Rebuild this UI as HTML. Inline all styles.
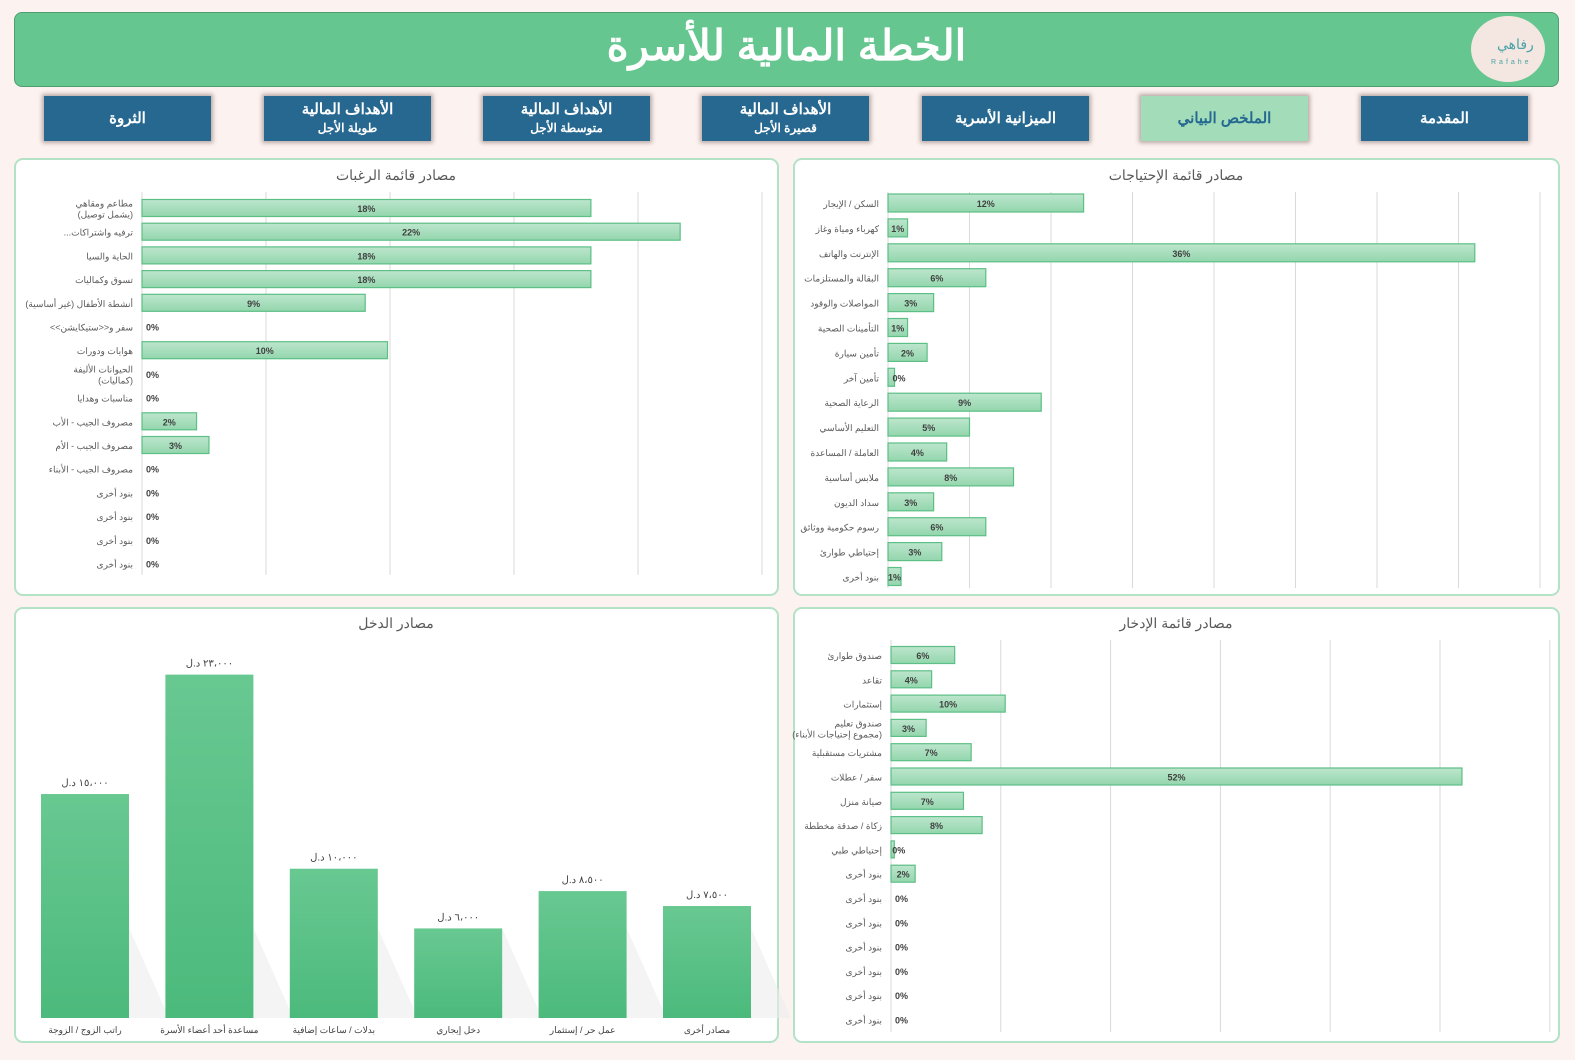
<!DOCTYPE html>
<html lang="ar"><head><meta charset="utf-8">
<style>
body{margin:0;width:1575px;height:1060px;background:#fcf2ef;position:relative;overflow:hidden;font-family:"Liberation Sans","Noto Sans CJK SC",sans-serif}
#hdr{position:absolute;left:14px;top:12px;width:1545px;height:75px;background:#66c690;border:1px solid #4f9e70;border-radius:8px;box-sizing:border-box}
#title{position:absolute;left:0;right:0;top:8px;text-align:center;color:#fff;font-size:42px;font-weight:bold;direction:rtl}
#logo{position:absolute;left:1456px;top:3px;width:74px;height:66px;border-radius:50%;background:#f4e6e0}
#logo span{position:absolute;left:26px;top:20px;color:#4aa3a8;font-size:14px}
#logo small{position:absolute;left:20px;top:43px;color:#4aa3a8;font-size:7px;letter-spacing:3px}
.btn{position:absolute;top:96px;width:167px;height:45px;background:#266890;color:#fff;font-weight:bold;text-align:center;box-shadow:0 0 4px 2px #b9aaa6;direction:rtl;display:flex;flex-direction:column;justify-content:center;font-size:15px;line-height:18px}
.btn small{font-size:12px}
.btn.act{background:#a2dcb9;color:#256890}
.panel{position:absolute;background:#fff;border:2px solid #b3e2c6;border-radius:9px;box-sizing:border-box}
svg{position:absolute;left:0;top:0}
</style></head><body>
<div id="hdr">
 <div id="title">الخطة المالية للأسرة</div>
 <div id="logo"><span>رفاهي</span><small>Rafahe</small></div>
</div>
<div class="btn" style="left:44px">الثروة</div>
<div class="btn" style="left:264px"><div>الأهداف المالية</div><small>طويلة الأجل</small></div>
<div class="btn" style="left:483px"><div>الأهداف المالية</div><small>متوسطة الأجل</small></div>
<div class="btn" style="left:702px"><div>الأهداف المالية</div><small>قصيرة الأجل</small></div>
<div class="btn" style="left:922px">الميزانية الأسرية</div>
<div class="btn act" style="left:1141px">الملخص البياني</div>
<div class="btn" style="left:1361px">المقدمة</div>

<div class="panel" style="left:14px;top:158px;width:765px;height:438px"></div>
<div class="panel" style="left:793px;top:158px;width:767px;height:438px"></div>
<div class="panel" style="left:14px;top:607px;width:765px;height:436px"></div>
<div class="panel" style="left:793px;top:607px;width:767px;height:436px"></div>

<svg id="chart" width="1575" height="1060">
<defs>
<linearGradient id="hb" x1="0" y1="0" x2="0" y2="1"><stop offset="0" stop-color="#bde6cd"/><stop offset="1" stop-color="#93d6ad"/></linearGradient>
<linearGradient id="vb" x1="0" y1="0" x2="0" y2="1"><stop offset="0" stop-color="#68c891"/><stop offset="1" stop-color="#4cba7c"/></linearGradient>
</defs>
</svg>
<script>
const wantsCats=["مطاعم ومقاهي\n(يشمل توصيل)","ترفيه واشتراكات...","الحاية والسيا","تسوق وكماليات","أنشطة الأطفال (غير أساسية)","سفر و<<ستيكايشن>>","هوايات ودورات","الحيوانات الأليفة\n(كماليات)","مناسبات وهدايا","مصروف الجيب - الأب","مصروف الجيب - الأم","مصروف الجيب - الأبناء","بنود أخرى","بنود أخرى","بنود أخرى","بنود أخرى"];
const wantsVals=[18.1,21.7,18.1,18.1,9.0,0,9.9,0,0,2.2,2.7,0,0,0,0,0];
const needsCats=["السكن / الإيجار","كهرباء ومياة وغاز","الإنترنت والهاتف","البقالة والمستلزمات","المواصلات والوقود","التأمينات الصحية","تأمين سيارة","تأمين آخر","الرعاية الصحية","التعليم الأساسي","العاملة / المساعدة","ملابس أساسية","سداد الديون","رسوم حكومية ووثائق","إحتياطي طوارئ","بنود أخرى"];
const needsVals=[12,1.2,36,6,2.8,1.2,2.4,0.4,9.4,5.0,3.6,7.7,2.8,6,3.3,0.8];
const saveCats=["صندوق طوارئ","تقاعد","إستثمارات","صندوق تعليم\n(مجموع إحتياجات الأبناء)","مشتريات مستقبلية","سفر / عطلات","صيانة منزل","زكاة / صدقة مخططة","إحتياطي طبي","بنود أخرى","بنود أخرى","بنود أخرى","بنود أخرى","بنود أخرى","بنود أخرى","بنود أخرى"];
const saveVals=[5.8,3.7,10.4,3.2,7.3,52,6.6,8.3,0.3,2.2,0,0,0,0,0,0];
const incCats=["راتب الزوج / الزوجة","مساعدة أحد أعضاء الأسرة","بدلات / ساعات إضافية","دخل إيجاري","عمل حر / إستثمار","مصادر أخرى"];
const incVals=[15000,23000,10000,6000,8500,7500];

const svg=document.getElementById('chart');
const NS='http://www.w3.org/2000/svg';
function mk(tag,attrs,parent){const e=document.createElementNS(NS,tag);for(const k in attrs)e.setAttribute(k,attrs[k]);(parent||svg).appendChild(e);return e;}
function txt(x,y,s,size,anchor,fill,weight){const t=mk('text',{x:x,y:y,'font-size':size,'text-anchor':anchor,fill:fill||'#595959','font-family':'Liberation Sans, Noto Sans CJK SC, sans-serif','font-weight':weight||'normal'});t.textContent=s;return t;}

function hbar(name,title,titleX,cats,vals,x0,pxPer,gridStep,gridN,gridTop,gridBot,y0,step,bh){
  const tt=txt(titleX,180+(y0>600?448:0),title,14,'middle','#595959');
  
  
  const xs=v=>x0+v*pxPer;
  for(let i=0;i<=gridN;i++){const g=mk('line',{x1:xs(i*gridStep),x2:xs(i*gridStep),y1:gridTop,y2:gridBot,stroke:'#d9d9d9','stroke-width':1});
    
    }
  cats.forEach((c,i)=>{
    const cy=y0+i*step;const v=vals[i];const w=v*pxPer;
    const lines=c.split('\n');
    lines.forEach((l,j)=>{const t=txt(x0-9,cy+4+(j-(lines.length-1)/2)*11,l,9,'start','#595959');
      t.setAttribute('direction','rtl');
      
      });
    if(v>0){const r=mk('rect',{x:x0,y:cy-bh/2,width:w,height:bh,fill:'url(#hb)',stroke:'#5cbf85','stroke-width':1.2});
      
      }
    const lbl=Math.round(v)+'%';
    const inside=w>=12;
    const lx=inside?x0+w/2:x0+(v>0?w-2:4);
    const t=txt(lx,cy+4,lbl,9,inside?'middle':'start','#404040','bold');
    
    
  });
}
hbar('wants','مصادر قائمة الرغبات',396,wantsCats,wantsVals,142,24.8,5,5,192,575,208,23.7,17);
hbar('needs','مصادر قائمة الإحتياجات',1176,needsCats,needsVals,888,16.3,5,8,192,588,203,24.9,18);
hbar('savings','مصادر قائمة الإدخار',1176,saveCats,saveVals,891,10.98,10,6,640,1032,655,24.3,17);

// income column chart
const it=txt(396,628,'مصادر الدخل',14,'middle','#595959');


const base=1018, ys=v=>base-v*0.01493;
const ar=n=>n.toLocaleString('en-US').replace(/\d/g,d=>'٠١٢٣٤٥٦٧٨٩'[d]).replace(/,/g,'،');
incCats.forEach((c,i)=>{
  const x=41+i*124.4,w=88,y=ys(incVals[i]);
  const sh=mk('polygon',{points:`${x+w},${Math.max(y,base-90)} ${x+w+40},${base} ${x+w},${base}`,fill:'#ececec',opacity:0.6});
  
  
  const r=mk('rect',{x:x,y:y,width:w,height:base-y,fill:'url(#vb)'});
  
  
  const v=txt(x+w/2,y-8,ar(incVals[i])+' د.ل',10,'middle','#404040');
  v.setAttribute('direction','rtl');
  
  
  const l=txt(x+w/2,1033,c,9,'middle','#404040');
  l.setAttribute('direction','rtl');
  
  
});
</script>
</body></html>
